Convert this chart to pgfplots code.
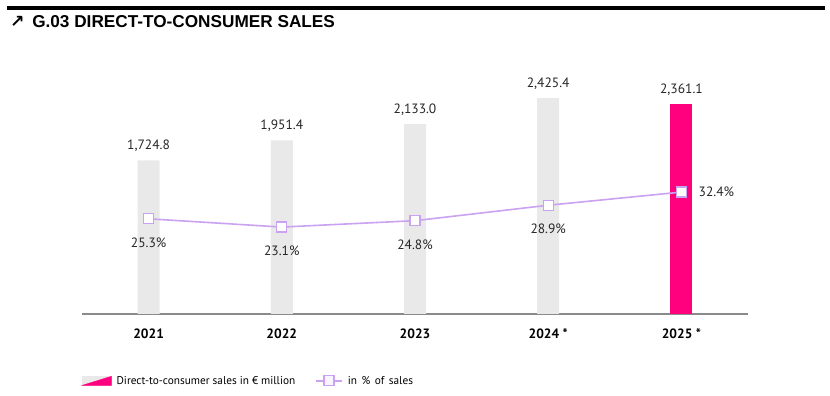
\documentclass[border=0pt]{standalone}
\usepackage{pgfplots}
\pgfplotsset{compat=1.18}
\usepackage{fontspec}
\setmainfont{PT Sans}
\newfontfamily\symfont{DejaVu Sans}
\newfontfamily\titlefont{Liberation Sans}
\definecolor{barGray}{HTML}{E9E9E9}
\definecolor{barPink}{HTML}{FF007F}
\definecolor{lineLav}{HTML}{C9A2F2}
\definecolor{axGray}{HTML}{8A8A8A}
\begin{document}
\begin{tikzpicture}[x=1pt,y=1pt]
\useasboundingbox (0pt,0pt) rectangle (830pt,396pt);
\fill[black] (7pt,386pt) rectangle (825pt,390pt);
\node[anchor=west, font=\titlefont\fontsize{17.2}{19}\selectfont\bfseries, inner sep=0] at (10pt,374pt) {{\symfont\bfseries\char"2197}\, G.03 DIRECT-TO-CONSUMER SALES};
\begin{axis}[
  at={(82pt,82pt)}, anchor=south west,
  scale only axis, width=666pt, height=254pt,
  xmin=-0.5, xmax=4.5, ymin=0, ymax=2854,
  axis y line=none, axis x line*=bottom,
  x axis line style={draw=axGray, line width=1.4pt, -},
  xtick={0,1,2,3,4},
  xticklabels={2021,2022,2023,{2024 *},{2025 *}},
  xticklabel style={font=\fontsize{13.5}{15}\selectfont\bfseries, yshift=-11pt},
  major tick length=0pt,
  ybar, bar width=22pt,
  nodes near coords,
  nodes near coords style={font=\fontsize{13.5}{15}\selectfont, text=black!85, anchor=south, yshift=5pt,
    /pgf/number format/.cd, fixed, fixed zerofill, precision=1, 1000 sep={,}, assume math mode=true},
  clip=false,
]
\addplot[fill=barGray, draw=none, bar shift=0pt] coordinates {(0,1724.8) (1,1951.4) (2,2133.0) (3,2425.4)};
\addplot[fill=barPink, draw=none, bar shift=0pt] coordinates {(4,2361.1)};
\end{axis}
\begin{axis}[
  at={(82pt,82pt)}, anchor=south west,
  scale only axis, width=666pt, height=254pt,
  xmin=-0.5, xmax=4.5, ymin=0, ymax=67.5,
  axis lines=none,
  clip=false,
  legend columns=2,
  legend style={at={(0,-0.263)}, anchor=west, draw=none, fill=none,
    font=\fontsize{11.3}{13}\selectfont, inner sep=0pt,
    /tikz/every odd column/.append style={column sep=3pt},
    /tikz/every even column/.append style={column sep=18pt}},
  legend cell align=left,
]
\addlegendimage{legend image code/.code={
  \fill[barGray] (0pt,-4.5pt) rectangle (29pt,4.5pt);
  \fill[barPink] (0pt,-4.5pt) -- (29pt,-4.5pt) -- (29pt,4.5pt) -- cycle;}}
\addlegendentry{Direct-to-consumer sales in € million}
\addplot[color=lineLav, line width=1.6pt, mark=square*, mark size=5pt,
  mark options={fill=white, draw=lineLav, line width=1.2pt},
  visualization depends on={value \coordindex \as \idx},
  nodes near coords={\pgfmathprintnumber[fixed,fixed zerofill,precision=1,assume math mode=true]{\pgfplotspointmeta}\%},
  nodes near coords style={font=\fontsize{13.5}{15}\selectfont, text=black!85, anchor=center,
    xshift={(\idx==4)*35pt}, yshift={(\idx<4)*(-24pt)}},
  legend image code/.code={
    \draw[lineLav, line width=1.6pt] (0pt,0pt) -- (26pt,0pt);
    \draw[lineLav, fill=lineLav!12, line width=1.2pt] (8pt,-5pt) rectangle (18pt,5pt);}
] coordinates {(0,25.3) (1,23.1) (2,24.8) (3,28.9) (4,32.4)};
\addlegendentry{{\spaceskip=4.5pt in \% of sales}}
\end{axis}
\end{tikzpicture}
\end{document}
